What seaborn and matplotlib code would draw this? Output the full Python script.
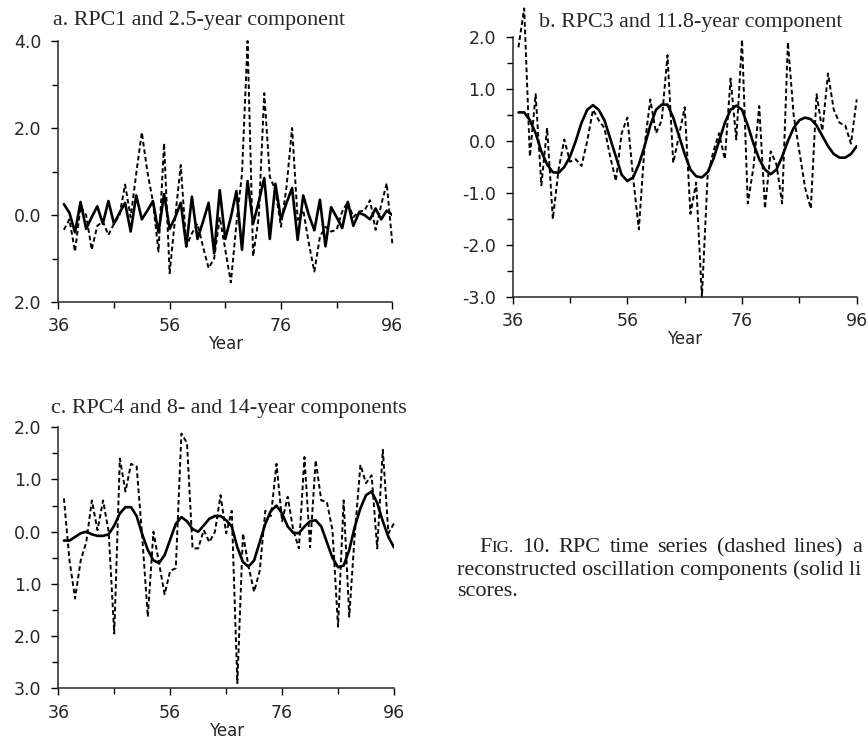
import numpy as np
import pandas as pd
import seaborn as sns
import matplotlib.pyplot as plt

# years as printed on the axis (19xx)
years = list(range(37, 97))

# a. RPC1 (dashed) and 2.5-year component (solid)
rpc1 = [-0.34, -0.10, -0.84, 0.20, 0.00, -0.80, -0.25, -0.15, -0.46, -0.20,
        0.00, 0.70, -0.05, 0.95, 1.90, 1.00, 0.30, -0.84, 1.65, -1.34,
        -0.05, 1.15, -0.73, -0.42, -0.20, -0.73, -1.22, -1.00, -0.05, -0.80,
        -1.55, -0.20, 0.95, 4.00, -0.95, -0.05, 2.80, 0.88, 0.57, -0.27,
        0.65, 2.00, -0.11, 0.11, -0.65, -1.30, -0.50, -0.27, -0.38, -0.34,
        0.08, 0.30, -0.05, 0.08, 0.10, 0.34, -0.34, 0.23, 0.73, -0.65]
comp_25 = [0.25, 0.05, -0.40, 0.30, -0.32, -0.05, 0.20, -0.20, 0.32, -0.20,
           0.05, 0.28, -0.38, 0.45, -0.10, 0.10, 0.32, -0.40, 0.48, -0.32,
           -0.05, 0.28, -0.72, 0.42, -0.55, -0.15, 0.28, -0.88, 0.57, -0.55,
           -0.05, 0.55, -0.80, 0.78, -0.20, 0.30, 0.85, -0.55, 0.72, -0.10,
           0.28, 0.62, -0.57, 0.45, 0.00, -0.35, 0.35, -0.72, 0.18, -0.05,
           -0.30, 0.30, -0.25, 0.05, 0.00, -0.10, 0.15, -0.10, 0.10, 0.00]

# b. RPC3 and 11.8-year component
rpc3 = [1.80, 2.55, -0.30, 0.90, -0.85, 0.25, -1.50, -0.55, 0.03, -0.40,
        -0.35, -0.48, 0.00, 0.60, 0.40, 0.25, -0.30, -0.77, 0.15, 0.45,
        -0.70, -1.70, -0.10, 0.80, 0.15, 0.40, 1.65, -0.42, 0.10, 0.65,
        -1.40, -0.80, -3.00, -0.67, -0.20, 0.15, -0.35, 1.20, 0.03, 1.95,
        -1.20, -0.50, 0.67, -1.30, -0.20, -0.45, -1.20, 1.90, 0.50, -0.20,
        -0.90, -1.30, 0.90, 0.20, 1.30, 0.60, 0.35, 0.30, -0.05, 0.80]
comp_118 = [0.55, 0.55, 0.40, 0.15, -0.20, -0.45, -0.60, -0.61, -0.50, -0.30,
            0.00, 0.35, 0.60, 0.69, 0.60, 0.40, 0.05, -0.30, -0.65, -0.77,
            -0.70, -0.45, -0.10, 0.30, 0.60, 0.70, 0.70, 0.45, 0.10, -0.25,
            -0.55, -0.68, -0.70, -0.60, -0.35, 0.00, 0.35, 0.60, 0.68, 0.60,
            0.30, -0.05, -0.35, -0.55, -0.64, -0.55, -0.30, 0.00, 0.25, 0.40,
            0.45, 0.42, 0.30, 0.10, -0.10, -0.25, -0.32, -0.32, -0.25, -0.10]

# c. RPC4 and 8- and 14-year components
rpc4 = [0.64, -0.55, -1.28, -0.55, -0.20, 0.60, 0.03, 0.60, 0.00, -1.95,
        1.40, 0.77, 1.30, 1.25, -0.10, -1.63, 0.00, -0.60, -1.20, -0.75,
        -0.70, 1.88, 1.70, -0.32, -0.32, 0.03, -0.20, 0.00, 0.70, -0.03,
        0.40, -2.90, -0.03, -0.67, -1.15, -0.75, 0.40, 0.30, 1.30, 0.20,
        0.67, 0.03, -0.32, 1.43, -0.30, 1.37, 0.60, 0.57, 0.03, -1.82,
        0.60, -1.63, -0.03, 1.28, 0.93, 1.08, -0.32, 1.57, -0.03, 0.16]
comp_8_14 = [-0.17, -0.17, -0.10, -0.03, 0.00, -0.05, -0.08, -0.08, -0.05, 0.12,
             0.35, 0.47, 0.47, 0.30, -0.05, -0.35, -0.55, -0.60, -0.45, -0.15,
             0.15, 0.28, 0.20, 0.05, 0.00, 0.12, 0.25, 0.30, 0.30, 0.22,
             0.10, -0.30, -0.58, -0.67, -0.55, -0.20, 0.15, 0.40, 0.50, 0.35,
             0.10, -0.02, -0.03, 0.10, 0.20, 0.22, 0.10, -0.20, -0.50, -0.68,
             -0.65, -0.35, 0.10, 0.45, 0.70, 0.77, 0.55, 0.20, -0.10, -0.30]

x_major = [36, 56, 76, 96]
x_minor = [46, 66, 86]

sns.set_style("ticks")
plt.rcParams["font.family"] = ["DejaVu Sans"]
plt.rcParams["axes.linewidth"] = 1.1

W, H = 868, 738
fig = plt.figure(figsize=(W / 100, H / 100), dpi=100)


def panel(rect, dashed, solid, ylim, yticks, ylabels, yminor, spine_top):
    ax = fig.add_axes(rect)
    df = pd.DataFrame({"year": years, "rpc": dashed, "comp": solid})
    sns.lineplot(data=df, x="year", y="rpc", ax=ax, color="black", lw=1.4,
                 linestyle=(0, (2.4, 1.5)), clip_on=False)
    sns.lineplot(data=df, x="year", y="comp", ax=ax, color="black", lw=1.9)
    ax.set_xlim(36, 96)
    ax.set_ylim(*ylim)
    ax.set_xticks(x_major, labels=[str(v) for v in x_major])
    ax.set_xticks(x_minor, minor=True)
    ax.set_yticks(yticks, labels=ylabels)
    ax.set_yticks(yminor, minor=True)
    ax.set_xlabel("Year", fontsize=12, labelpad=0)
    ax.set_ylabel("")
    sns.despine(ax=ax)
    ax.spines["left"].set_bounds(ylim[0], spine_top)
    ax.tick_params(which="both", direction="out", color="black", width=1.0)
    ax.tick_params(which="major", length=5, labelsize=12.5, pad=6)
    ax.tick_params(which="minor", length=4)
    ax.tick_params(axis="y", pad=7)
    return ax


ax_a = panel([58.3 / W, 1 - 302 / H, 334 / W, 261 / H], rpc1, comp_25,
             (-2, 4), [4, 2, 0, -2], ["4.0", "2.0", "0.0", "2.0"], [3, 1, -1], 4)
ax_b = panel([512.7 / W, 1 - 297 / H, 344 / W, 5.6 * 52 / H], rpc3, comp_118,
             (-3, 2.6), [2, 1, 0, -1, -2, -3],
             ["2.0", "1.0", "0.0", "-1.0", "-2.0", "-3.0"],
             [1.5, 0.5, -0.5, -1.5, -2.5], 2)
ax_c = panel([58.3 / W, 1 - 688.3 / H, 335.7 / W, 261 / H], rpc4, comp_8_14,
             (-3, 2), [2, 1, 0, -1, -2, -3],
             ["2.0", "1.0", "0.0", "1.0", "2.0", "3.0"],
             [1.5, 0.5, -0.5, -1.5, -2.5], 2)

serif = ["Liberation Serif", "DejaVu Serif"]
fig.text(53 / W, 1 - 25 / H, "a. RPC1 and 2.5-year component",
         family=serif, fontsize=15.8, va="baseline")
fig.text(539 / W, 1 - 27 / H, "b. RPC3 and 11.8-year component",
         family=serif, fontsize=15.8, va="baseline")
fig.text(51 / W, 1 - 413 / H, "c. RPC4 and 8- and 14-year components",
         family=serif, fontsize=15.8, va="baseline")

# caption, as much of it as shows on the page (it runs off the right edge)
cap_col = "#222222"
cap_size = 16
fig.canvas.draw()
rend = fig.canvas.get_renderer()

line1 = ["F", "IG.", "10.", "RPC", "time", "series", "(dashed", "lines)", "a"]
y1 = 1 - 552 / H
parts = []
for word in line1:
    size = cap_size * 0.76 if word == "IG." else cap_size
    parts.append(fig.text(0, y1, word, family=serif, fontsize=size,
                          color=cap_col, va="baseline"))
widths = [t.get_window_extent(rend).width for t in parts]
# justified line: words spread between x=479 and the last word at x=852
x0, x_last = 479.0, 852.0
gap = (x_last - x0 - sum(widths[:-1])) / (len(line1) - 2)
x = x0
for i, t in enumerate(parts):
    t.set_x(x / W)
    x += widths[i]
    if i != 0:  # small caps "IG." sits right after "F"
        x += gap

fig.text(457 / W, 1 - 575 / H, "reconstructed oscillation components (solid li",
         family=serif, fontsize=cap_size, color=cap_col, va="baseline")
fig.text(457 / W, 1 - 596 / H, "scores.",
         family=serif, fontsize=cap_size, color=cap_col, va="baseline")

fig.savefig("out.png", dpi=100)
